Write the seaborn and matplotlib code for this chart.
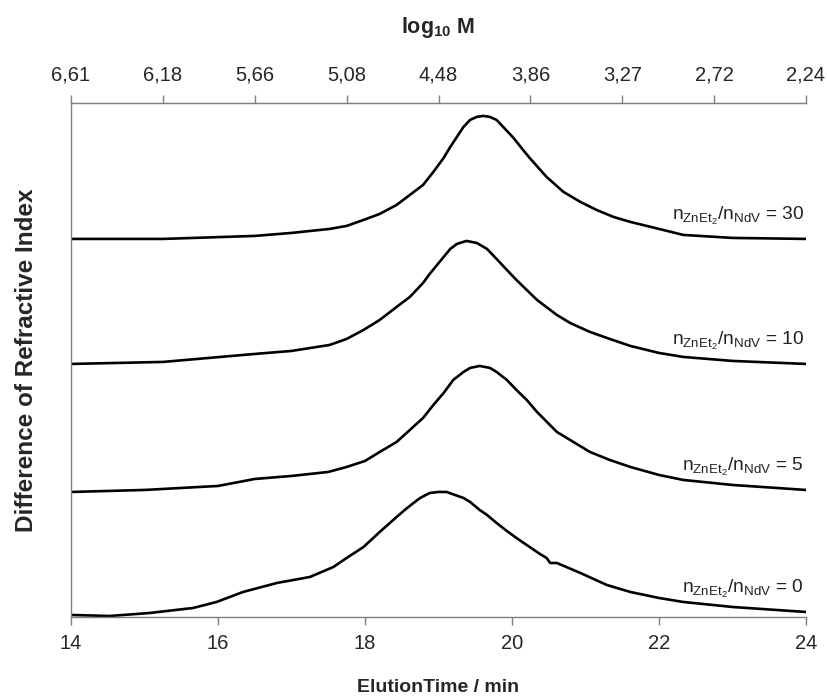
import numpy as np
import pandas as pd
import matplotlib
matplotlib.use("Agg")
import matplotlib.pyplot as plt
import seaborn as sns

# elution time (min) and detector trace (arbitrary units, stacked as in the figure)
t_30 = [14.0, 15.25, 16.5, 17.0, 17.52, 17.75, 17.98, 18.2, 18.43, 18.61, 18.79, 18.93,
        19.07, 19.16, 19.25, 19.34, 19.43, 19.52, 19.61, 19.70, 19.79, 19.88, 20.02, 20.15,
        20.24, 20.47, 20.70, 20.93, 21.15, 21.38, 21.61, 22.0, 22.33, 23.0, 24.0]
ri_30 = [378, 378, 381, 384, 388, 391, 397, 403, 412, 422, 432, 445,
         459, 470, 480, 490, 497, 500, 501, 500, 497, 490, 479, 467,
         459, 440, 425, 415, 407, 400, 395, 388, 382, 379, 378]

t_10 = [14.0, 15.25, 16.5, 17.0, 17.52, 17.75, 17.98, 18.2, 18.43, 18.61, 18.79, 18.88,
        19.07, 19.16, 19.25, 19.38, 19.52, 19.66, 19.79, 19.93, 20.06, 20.2, 20.34, 20.61,
        20.79, 21.06, 21.33, 21.61, 22.0, 22.33, 23.0, 24.0]
ri_10 = [253, 255, 263, 266, 272, 278, 287, 297, 310, 320, 334, 343,
         360, 368, 373, 376, 374, 368, 358, 347, 337, 327, 317, 302,
         294, 285, 278, 271, 264, 260, 256, 253]

t_5 = [14.0, 15.0, 16.0, 16.5, 17.0, 17.5, 17.75, 18.0, 18.2, 18.43, 18.61, 18.79,
       18.93, 19.07, 19.2, 19.34, 19.43, 19.56, 19.70, 19.79, 19.93, 20.06, 20.2, 20.34,
       20.61, 20.79, 21.06, 21.33, 21.61, 22.0, 22.33, 23.0, 24.0]
ri_5 = [125, 127, 131, 138, 141, 145, 150, 156, 165, 175, 187, 199,
        212, 224, 237, 245, 249, 251, 249, 245, 237, 227, 217, 205,
        185, 177, 165, 157, 150, 142, 137, 132, 127]

t_0 = [14.0, 14.53, 15.07, 15.66, 15.98, 16.34, 16.8, 17.25, 17.57, 17.75, 17.98, 18.2,
       18.43, 18.54, 18.66, 18.75, 18.88, 19.0, 19.11, 19.34, 19.43, 19.56, 19.66, 19.79,
       19.93, 20.06, 20.24, 20.38, 20.47, 20.52, 20.61, 20.93, 21.29, 21.61, 22.0, 22.33,
       23.0, 24.0]
ri_0 = [2, 1, 4, 9, 15, 25, 34, 40, 50, 59, 70, 85,
        100, 107, 114, 119, 124, 125, 125, 119, 115, 107, 102, 94,
        86, 79, 70, 63, 59, 54, 54, 44, 32, 25, 19, 15,
        10, 5]

ratios = ["30", "10", "5", "0"]
top_tick_times = [14.0, 15.25, 16.5, 17.75, 19.0, 20.25, 21.5, 22.75, 24.0]
top_tick_labels = ["6,61", "6,18", "5,66", "5,08", "4,48", "3,86", "3,27", "2,72", "2,24"]
bottom_ticks = [14, 16, 18, 20, 22, 24]

frames = []
for ratio, t, ri in zip(ratios, [t_30, t_10, t_5, t_0], [ri_30, ri_10, ri_5, ri_0]):
    frames.append(pd.DataFrame({"time": t, "ri": ri, "ratio": ratio}))
df = pd.concat(frames, ignore_index=True)

sns.set_style("white")
plt.rcParams["font.family"] = ["Liberation Sans", "DejaVu Sans"]
plt.rcParams["mathtext.fontset"] = "custom"
plt.rcParams["mathtext.rm"] = "Liberation Sans"
plt.rcParams["mathtext.it"] = "Liberation Sans:italic"
plt.rcParams["mathtext.bf"] = "Liberation Sans:bold"

fig = plt.figure(figsize=(8.27, 7.0), dpi=100)
ax = fig.add_axes([0.0859, 0.1186, 0.8887, 0.7344])

for ratio in ratios:
    sub = df[df["ratio"] == ratio]
    sns.lineplot(data=sub, x="time", y="ri", ax=ax, color="black", lw=1.9,
                 estimator=None, sort=False, legend=False)
    end = sub["ri"].iloc[-1]
    ax.text(23.97, end + 19,
            r"$\mathregular{n_{ZnEt_2}/n_{NdV}}$ = " + ratio,
            ha="right", va="baseline", fontsize=13.8, color="#222222")

ax.set_xlim(14, 24)
ax.set_ylim(0, 514)
ax.set_xticks(bottom_ticks)
ax.set_yticks([])
ax.set_xlabel("ElutionTime / min", fontsize=14, fontweight="bold", labelpad=19)
ax.set_ylabel("Difference of Refractive Index", fontsize=17.5, fontweight="bold",
              labelpad=24)

spine_col = "#808080"
for side in ["left", "bottom", "top"]:
    ax.spines[side].set_color(spine_col)
    ax.spines[side].set_linewidth(1.0)
ax.spines["right"].set_visible(False)
ax.tick_params(axis="x", direction="out", length=6, width=1, color=spine_col,
               labelsize=14.5, pad=6, bottom=True)

top = ax.twiny()
top.set_xlim(ax.get_xlim())
top.set_xticks(top_tick_times)
top.set_xticklabels(top_tick_labels)
top.spines["right"].set_visible(False)
top.spines["top"].set_color(spine_col)
top.spines["left"].set_visible(False)
top.spines["bottom"].set_visible(False)
top.tick_params(axis="x", direction="out", length=6, width=1, color=spine_col,
                labelsize=14.5, pad=7, top=True)
top.set_xlabel(r"$\mathbf{log_{10}}$ M", fontsize=15.5, fontweight="bold", labelpad=24)

fig.savefig("out.png", dpi=100)
